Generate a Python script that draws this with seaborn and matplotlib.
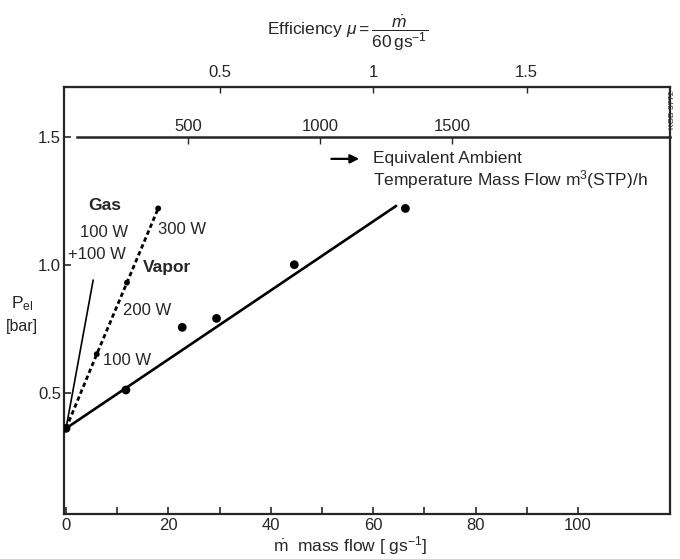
import matplotlib
matplotlib.use('Agg')
import matplotlib.pyplot as plt
import seaborn as sns
import pandas as pd

# ambient temperature runs: mass flow [g/s] vs P_el [bar]
amb_flow = [0, 11.7, 22.7, 29.4, 44.6, 66.3]
amb_pel = [0.36, 0.51, 0.755, 0.79, 1.0, 1.22]
# straight fit through the ambient runs
fit_flow = [0, 64.5]
fit_pel = [0.36, 1.23]
# heated gas
gas_flow = [0, 5.3]
gas_pel = [0.36, 0.94]
# heated vapor: 0, 100, 200, 300 W
vap_flow = [0, 6.0, 11.9, 18.0]
vap_pel = [0.36, 0.65, 0.93, 1.22]

xticks = [0, 20, 40, 60, 80, 100]
xminor = [10, 30, 50, 70, 90]
yticks = [0.5, 1.0, 1.5]
eff_ticks = [0.5, 1, 1.5]
vol_ticks = [500, 1000, 1500]

sns.set_style('ticks')
plt.rcParams['font.family'] = ['Liberation Sans', 'DejaVu Sans']
plt.rcParams['mathtext.fontset'] = 'custom'
plt.rcParams['mathtext.rm'] = 'Liberation Sans'
plt.rcParams['mathtext.it'] = 'Liberation Sans:italic'

xlo, xhi = -0.4, 118
ylo, yhi = 0.025, 1.695

fig, ax = plt.subplots(figsize=(6.8, 5.59), dpi=100)
fig.subplots_adjust(left=64/680, right=670/680, top=1-87/559, bottom=1-514/559)

amb = pd.DataFrame({'flow': amb_flow, 'pel': amb_pel})
fit = pd.DataFrame({'flow': fit_flow, 'pel': fit_pel})
gas = pd.DataFrame({'flow': gas_flow, 'pel': gas_pel})
vap = pd.DataFrame({'flow': vap_flow, 'pel': vap_pel})

sns.lineplot(data=fit, x='flow', y='pel', color='black', lw=1.9, ax=ax)
sns.lineplot(data=gas, x='flow', y='pel', color='black', lw=1.2, ax=ax)
sns.lineplot(data=vap, x='flow', y='pel', color='black', lw=2.0,
             linestyle=(0, (1.6, 1.1)), ax=ax)
sns.scatterplot(data=amb, x='flow', y='pel', color='black', s=40,
                edgecolor='none', ax=ax, zorder=5)
sns.scatterplot(data=vap, x='flow', y='pel', color='black', s=18,
                edgecolor='none', ax=ax, zorder=5)

ax.set_xlim(xlo, xhi)
ax.set_ylim(ylo, yhi)
ax.set_xticks(xticks, labels=[str(t) for t in xticks])
ax.set_xticks(xminor, minor=True)
ax.set_yticks(yticks, labels=['0.5', '1.0', '1.5'])
ax.tick_params(which='both', direction='in', length=5, width=1.2,
               labelsize=12, pad=3)
ax.tick_params(axis='y', pad=2)
for s in ax.spines.values():
    s.set_visible(True)
    s.set_linewidth(1.6)
ax.set_xlabel('')
ax.set_ylabel('')

# efficiency scale on top
eff = ax.secondary_xaxis('top', functions=(lambda x: x / 60, lambda m: m * 60))
eff.set_xticks(eff_ticks, labels=['0.5', '1', '1.5'])
eff.tick_params(direction='in', length=4, width=1.0, labelsize=12, pad=5)

# equivalent ambient temperature mass flow scale drawn at P = 1.5
to_vol = lambda x: (x + 1.9) / 0.0516
from_vol = lambda v: 0.0516 * v - 1.9
loc = (1.5 - ylo) / (yhi - ylo)
vol = ax.secondary_xaxis(loc, functions=(to_vol, from_vol))
vol.set_xticks(vol_ticks, labels=[str(t) for t in vol_ticks])
vol.tick_params(direction='in', length=5, width=1.0, labelsize=12, pad=2)
vol.spines['top'].set_linewidth(1.8)
vol.spines['top'].set_bounds(to_vol(2.2), to_vol(xhi))

# annotations
ax.text(7.6, 1.23, 'Gas', fontsize=12.5, fontweight='bold', ha='center', va='center')
ax.text(7.4, 1.125, '100 W', fontsize=12, ha='center', va='center')
ax.text(0.3, 1.04, '+100 W', fontsize=12, ha='left', va='center')
ax.text(18.0, 1.137, '300 W', fontsize=12, ha='left', va='center')
ax.text(15.1, 0.99, 'Vapor', fontsize=12.5, fontweight='bold', ha='left', va='center')
ax.text(11.2, 0.82, '200 W', fontsize=12, ha='left', va='center')
ax.text(7.2, 0.625, '100 W', fontsize=12, ha='left', va='center')

ax.annotate('', xy=(57.8, 1.414), xytext=(51.3, 1.414),
            arrowprops=dict(arrowstyle='-|>', lw=1.6, color='black',
                            mutation_scale=13))
ax.text(59.9, 1.414, 'Equivalent Ambient', fontsize=12.5, ha='left', va='center')
ax.text(59.9, 1.332, 'Temperature Mass Flow m$^3$(STP)/h', fontsize=12.5,
        ha='left', va='center')

fig.text(348/680, 1-33/559, r'Efficiency $\mu = \dfrac{\dot{m}}{60\,\mathrm{gs}^{-1}}$',
         fontsize=12.5, ha='center', va='center')
fig.text(350/680, 1-546/559, r'$\dot{\mathrm{m}}$  mass flow [ gs$^{-1}$]',
         fontsize=12.5, ha='center', va='center')
fig.text(22/680, 1-304/559, r'P$_{\mathrm{el}}$', fontsize=12.5, ha='center', va='center')
fig.text(22/680, 1-327/559, '[bar]', fontsize=11.5, ha='center', va='center')
fig.text(673/680, 1-110/559, 'KGB 3772', fontsize=6, rotation=90,
         ha='center', va='center')

fig.savefig('out.png', dpi=100)
